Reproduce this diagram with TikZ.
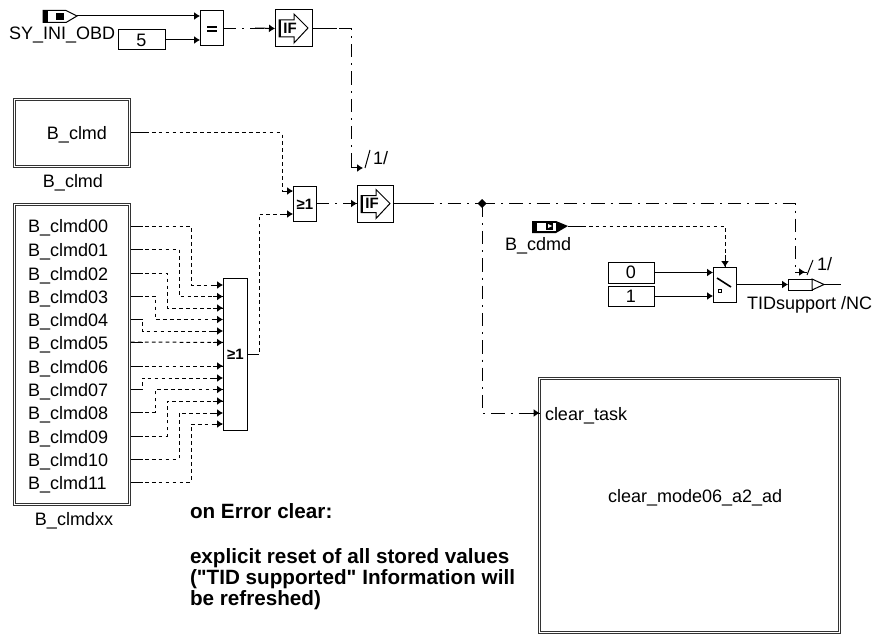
\documentclass[tikz,border=0pt]{standalone}
\usepackage{fontspec}
\setmainfont{Liberation Sans}
\newfontfamily\plainquotes{Liberation Sans}
\usetikzlibrary{arrows.meta}
\tikzset{
  x=0.75pt,y=-0.75pt,
  every node/.style={font=\fontsize{13.5}{16}\selectfont,inner sep=0pt,outer sep=0pt},
  blk/.style={draw=black,line width=0.75pt,fill=white,minimum width=#1},
  frame/.style={draw=black!80,line width=0.6pt,double=white,double distance=1.2pt,fill=white,anchor=north west},
  wire/.style={draw=black,line width=0.75pt},
  tip/.style={-{Latex[length=4.5pt,width=6pt]}},
  dots/.style={wire,dash pattern=on 2.8pt off 2.4pt},
  dashdot/.style={wire,dash pattern=on 10pt off 4.5pt on 1.5pt off 4.5pt},
  lab/.style={anchor=base west},
  boldlab/.style={anchor=base west,font=\fontsize{15.5}{18}\selectfont\bfseries},
  symb/.style={font=\fontsize{11.25}{12}\selectfont\bfseries},
}
\newcommand{\ifsym}[2]{%
  \draw[line width=0.75pt,fill=white] (#1-12,#2-8) -- ++(15,0) -- ++(0,-6) -- ++(14,14) -- ++(-14,15) -- ++(0,-6) -- ++(-15,0) -- cycle;
  \fill (#1-12,#2-8) rectangle ++(1.6,17);
  \node[symb] at (#1-1,#2) {IF};
}
\begin{document}
\begin{tikzpicture}
\useasboundingbox (0,0) rectangle (872,635);
% top row
\node[blk=23*0.75pt,minimum height=26.25pt,anchor=north west] (eq) at (200,11) {};
\fill (207,26.5) rectangle (217,28.5);
\fill (207,30.5) rectangle (217,32.5);
\node[blk=37*0.75pt,minimum height=27.75pt,anchor=north west] (if1) at (275,10) {};
\ifsym{291}{28}
\node[blk=47*0.75pt,minimum height=15pt,anchor=north west] (five) at (118,30) {5};
\coordinate (sy) at (77,16);
\draw[line width=0.75pt,fill=white] (43,10.5) -- (66,10.5) -- (sy) -- (66,22.5) -- (43,22.5) -- cycle;
\fill (43,10) rectangle (48,23);
\fill (56,13) rectangle (64,20);
\node[lab] (syl) at (9,40) {SY\_INI\_OBD};
\draw[wire,tip] (sy) -- (eq.west |- sy);
\draw[wire,tip] (five.east) -- (eq.west |- five.east);
\draw[dashdot] (eq.east) -- (if1.west);
\draw[wire,tip] (255,28) -- (if1.west);
\draw[wire] (eq.east) -- ++(8,0);
\coordinate (t1) at (363,168);
\draw[dashdot] (if1.east) -| (351,168) -- (t1);
\draw[wire] (if1.east) -- ++(25,0);
\draw[wire,tip] (351,168) -- (t1);
\draw[wire] (365,168) -- (370,150);
\node[lab] (one1) at (373,165) {1/};
% B_clmd
\node[frame,minimum width=86.1pt,minimum height=50.1pt] (bc) at (14.6,99.6) {};
\node[anchor=base] (bct) at (77,140) {B\_clmd};
\node[anchor=base] (bcl) at (73,187) {B\_clmd};
% xx
\node[frame,minimum width=86.1pt,minimum height=224.9pt] (bx) at (14.6,204.6) {};
\node[anchor=base] (bxl) at (74,525) {B\_clmdxx};
\node[blk=24*0.75pt,minimum height=114pt,anchor=north west] (or1) at (223,278) {};
\node[symb] at (235.5,354) {≥1};
\node[blk=23*0.75pt,minimum height=26.25pt,anchor=north west] (or2) at (293,186) {};
\node[symb] at (305,204) {≥1};
\node[blk=36*0.75pt,minimum height=27.75pt,anchor=north west] (if2) at (357,185) {};
\ifsym{373}{203.5}
\foreach \i/\t/\y/\bx/\ya in {0/00/226/191/285,1/01/249/179/296.5,2/02/273/167/308,3/03/296/155/319.5,4/04/319/142/331,5/05/342/0/342.5,6/06/366/0/366,7/07/389/142/378,8/08/412/155/389.5,9/09/436/167/401,10/10/459/179/413,11/11/482/191/424}{
  \node[lab] (r\i) at (28,\y+7) {B\_clmd\t};
  \coordinate (o\i) at (131,\y);
  \coordinate (in\i) at (223,\ya);
  \ifnum\bx=0
    \draw[dots] (o\i) -- (in\i);
  \else
    \draw[dots] (o\i) -- (\bx,\y) -- (\bx,\ya) -- (in\i);
  \fi
  \draw[wire] (o\i) -- ++(12,0);
  \draw[wire,tip] (213,\ya) -- (in\i);
}
% or outputs
\coordinate (or1o) at (247,354);
\coordinate (or2a) at (293,191);
\coordinate (or2b) at (293,214);
\draw[dots] (131,133) -- (282,133) -- (282,191) -- (or2a);
\draw[wire] (131,133) -- ++(15,0);
\draw[wire,tip] (282,191) -- (or2a);
\draw[dots] (or1o) -- (259,354) -- (259,214) -- (or2b);
\draw[wire] (or1o) -- (259,354);
\draw[wire,tip] (283,214) -- (or2b);
\draw[dashdot] (or2.east) -- (if2.west);
\draw[wire,tip] (345,203.5) -- (if2.west |- 0,203.5);
\draw[wire] (or2.east) -- ++(10,0);
% junction
\coordinate (j) at (482,203.5);
\fill (482,199) -- (486.5,203.5) -- (482,208) -- (477.5,203.5) -- cycle;
\draw[dashdot] (if2.east) -- (j);
\draw[wire] (if2.east) -- ++(30,0);
\draw[dashdot] (j) -- (795,203.5) -- (795,272) -- (807,272);
\draw[wire,tip] (795,272) -- (805,272);
\draw[wire] (807,275) -- (813,260);
\node[lab] (one2) at (817,270) {1/};
% clear task
\node[frame,minimum width=224.9pt,minimum height=190.4pt] (task) at (539.6,378.6) {};
\node[lab] (ct) at (545,420) {clear\_task};
\node[lab] (cm) at (608,502) {clear\_mode06\_a2\_ad};
\draw[dashdot] (j) -- (482,413) -- (task.west |- 0,413);
\draw[wire,tip] (525,413) -- (task.west |- 0,413);
% switch
\node[blk=23*0.75pt,minimum height=26.25pt,anchor=north west] (sw) at (713,267) {};
\draw[line width=1.2pt] (717,278) -- (731,287);
\draw[line width=0.75pt] (718,289) rectangle (721,292);
\coordinate (cd) at (568,226);
\fill (532,221) -- (556,221) -- (cd) -- (556,233) -- (532,233) -- cycle;
\fill[white] (537,223) rectangle (556,231);
\fill (546,222) rectangle (553,230);
\fill[white] (548,224) -- (552,226) -- (548,228) -- cycle;
\node[lab] (cdl) at (505,250) {B\_cdmd};
\draw[dots] (cd) -- (725,226) -- (sw.north -| 725,0);
\draw[wire] (cd) -- ++(15,0);
\draw[wire,tip] (725,255) -- (725,267);
\node[blk=46*0.75pt,minimum height=15.75pt,anchor=north west] (zero) at (608,262) {0};
\node[blk=46*0.75pt,minimum height=15pt,anchor=north west] (uno) at (608,286) {1};
\draw[wire,tip] (zero.east) -- (sw.west |- zero.east);
\draw[wire,tip] (uno.east) -- (sw.west |- uno.east);
% output
\node[blk=24*0.75pt,minimum height=8.25pt,anchor=north west] (outb) at (788,279) {};
\draw[line width=0.75pt,fill=white] (812,279) -- (824,284.5) -- (812,290) -- cycle;
\coordinate (outt) at (841,284.5);
\draw[wire] (824,284.5) -- (outt);
\draw[wire,tip] (sw.east |- outb.west) -- (outb.west);
\node[lab] (tid) at (747,309) {TIDsupport /NC};
% note
\node[boldlab] (n1) at (190,518) {on Error clear:};
\node[boldlab] (n2) at (190,563) {explicit reset of all stored values};
\node[boldlab] (n3) at (190,584) {\plainquotes\bfseries ("TID supported" Information will};
\node[boldlab] (n4) at (190,605) {be refreshed)};
\end{tikzpicture}
\end{document}
